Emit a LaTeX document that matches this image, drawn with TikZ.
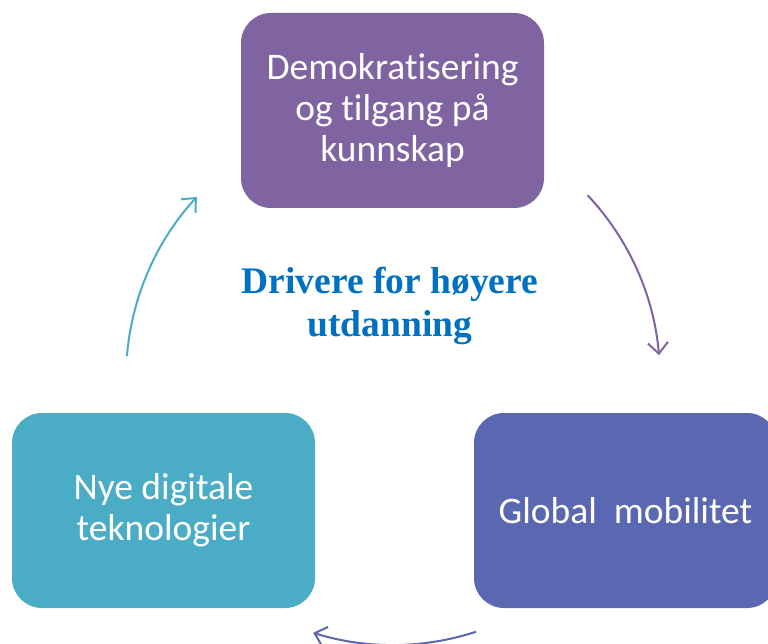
\documentclass[tikz,border=0pt]{standalone}
\usepackage{fontspec}
\setmainfont[Ligatures=NoCommon]{Carlito}
\newfontfamily\titlefont{Liberation Serif}
\usetikzlibrary{arrows.meta,calc}
\definecolor{cpurple}{HTML}{8064A2}
\definecolor{cteal}{HTML}{4BACC6}
\definecolor{cblue}{HTML}{5A67B1}
\definecolor{ctitle}{HTML}{0070C0}
\begin{document}
\begin{tikzpicture}[x=1pt,y=1pt,
  box/.style={rounded corners=30pt, minimum width=303pt, minimum height=195pt,
    inner sep=0pt, text=white, align=center, font=\fontsize{37.5}{41}\selectfont},
  arr/.style={line width=2pt, -{Straight Barb[length=11pt,width=20pt,line width=2pt]}}]
\clip (0,0) rectangle (768,-644);
\fill[white] (0,0) rectangle (768,-644);
\node[box, fill=cpurple] (top) at (392.5,-110.5) {Demokratisering\\og tilgang på\\kunnskap};
\node[box, fill=cteal] (left) at (163.5,-510.5) {Nye digitale\\teknologier};
\node[box, fill=cblue] (right) at (625.5,-510.5) {Global\ \ mobilitet};
\node[text=ctitle, align=center, font=\titlefont\bfseries\fontsize{37.5}{43}\selectfont] (title) at (390,-306) {Drivere for høyere\\utdanning};
\coordinate (c) at (393,-378);
\coordinate (a1) at ($(c)+(43.2:267)$);
\coordinate (a2) at ($(c)+(-71.9:267)$);
\coordinate (a3) at ($(c)+(175.3:267)$);
\draw[arr, cpurple] (a1) arc[start angle=43.2, end angle=4.9, radius=267];
\draw[arr, cblue] (a2) arc[start angle=-71.9, end angle=-107.4, radius=267];
\draw[arr, cteal] (a3) arc[start angle=175.3, end angle=137.3, radius=267];
\end{tikzpicture}
\end{document}
